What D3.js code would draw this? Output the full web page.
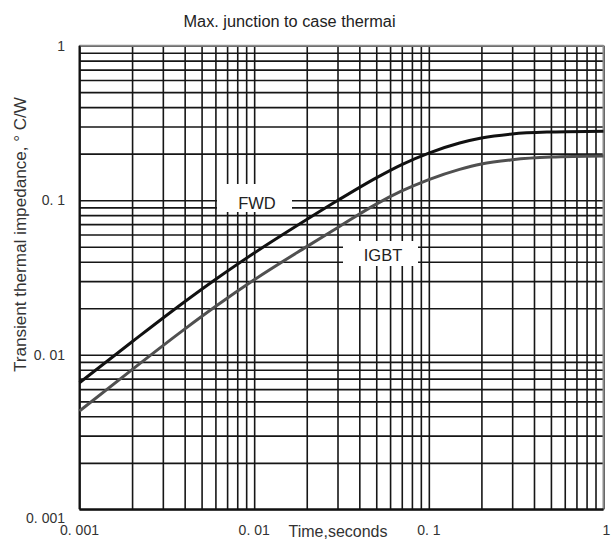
<!DOCTYPE html>
<html>
<head>
<meta charset="utf-8">
<script src="https://cdn.jsdelivr.net/npm/d3@7"></script>
<style>
  html, body { margin: 0; padding: 0; background: #fff; }
  svg { display: block; font-family: "Liberation Sans", Arial, sans-serif; }
</style>
</head>
<body>
<svg id="chart" width="611" height="540"></svg>
<script>
// ---- data ----
const time = [0.001, 0.002, 0.004, 0.006, 0.01, 0.02, 0.03, 0.05, 0.07, 0.1, 0.15, 0.2, 0.3, 0.5, 1];
const fwd  = [0.00659, 0.01213, 0.02203, 0.03069, 0.0455, 0.0750, 0.0995, 0.1396, 0.1702, 0.2018, 0.2344, 0.2526, 0.2685, 0.2765, 0.280];
const igbt = [0.004325, 0.00802, 0.01466, 0.02051, 0.03055, 0.0501, 0.0664, 0.0944, 0.1148, 0.1361, 0.1585, 0.1718, 0.1828, 0.1901, 0.1932];
const xTickValues = [0.001, 0.01, 0.1, 1];
const xTickLabels = ["0. 001", "0. 01", "0. 1", "1"];
const yTickValues = [1, 0.1, 0.01, 0.001];
const yTickLabels = ["1", "0. 1", "0. 01", "0. 001"];
const seriesNames = ["FWD", "IGBT"];

// ---- layout ----
const svg = d3.select("#chart");
const L = 79.5, R = 603.5, T = 45.7, B = 509.3;
const x = d3.scaleLog().domain([0.001, 1]).range([L, R]);
const y = d3.scaleLog().domain([0.001, 1]).range([B, T]);

// grid
const gridColor = "#161616";
svg.append("g")
  .attr("transform", `translate(0,${B})`)
  .call(d3.axisBottom(x).tickValues(x.ticks()).tickSize(-(B - T)).tickFormat(""))
  .call(g => g.select(".domain").remove())
  .call(g => g.selectAll("line").attr("stroke", gridColor).attr("stroke-width", 1.6));
svg.append("g")
  .attr("transform", `translate(${L},0)`)
  .call(d3.axisLeft(y).tickValues(y.ticks()).tickSize(-(R - L)).tickFormat(""))
  .call(g => g.select(".domain").remove())
  .call(g => g.selectAll("line").attr("stroke", gridColor).attr("stroke-width", 1.7));

// frame
svg.append("line").attr("x1", L).attr("x2", R).attr("y1", T).attr("y2", T).attr("stroke", "#8c8c8c").attr("stroke-width", 2);
svg.append("line").attr("x1", R).attr("x2", R).attr("y1", T).attr("y2", B).attr("stroke", "#8c8c8c").attr("stroke-width", 2);
svg.append("line").attr("x1", L).attr("x2", L).attr("y1", T).attr("y2", B).attr("stroke", "#111").attr("stroke-width", 2);
svg.append("line").attr("x1", L).attr("x2", R).attr("y1", B).attr("y2", B).attr("stroke", "#111").attr("stroke-width", 2);

// label boxes (white, hide grid)
const boxes = [
  { name: seriesNames[0], x0: 217, x1: 292, y0: 184, y1: 212, tx: 257, ty: 208.5 },
  { name: seriesNames[1], x0: 343, x1: 418, y0: 241, y1: 266, tx: 383, ty: 260.5 }
];
boxes.forEach(b => {
  svg.append("rect").attr("x", b.x0).attr("y", b.y0).attr("width", b.x1 - b.x0).attr("height", b.y1 - b.y0).attr("fill", "#fff");
  svg.append("text").attr("x", b.tx).attr("y", b.ty).attr("text-anchor", "middle")
    .attr("font-size", 16.5).attr("fill", "#222").text(b.name);
});

// curves
const line = d3.line().x(d => x(d[0])).y(d => y(d[1])).curve(d3.curveMonotoneX);
svg.append("path").datum(time.map((t, i) => [t, igbt[i]]))
  .attr("d", line).attr("fill", "none").attr("stroke", "#505050").attr("stroke-width", 3);
svg.append("path").datum(time.map((t, i) => [t, fwd[i]]))
  .attr("d", line).attr("fill", "none").attr("stroke", "#111").attr("stroke-width", 3);

// tick labels
const txtColor = "#333";
yTickValues.forEach((v, i) => {
  svg.append("text").attr("x", 65).attr("y", y(v) + (v === 0.001 ? 14 : 5))
    .attr("text-anchor", "end").attr("font-size", 14).attr("fill", txtColor).text(yTickLabels[i]);
});
xTickValues.forEach((v, i) => {
  svg.append("text").attr("x", x(v) + (v === 1 ? 3 : 0)).attr("y", 535)
    .attr("text-anchor", "middle").attr("font-size", 14).attr("fill", txtColor).text(xTickLabels[i]);
});

// axis titles
svg.append("text").attr("x", 338).attr("y", 537).attr("text-anchor", "middle")
  .attr("font-size", 16).attr("fill", txtColor).text("Time,seconds");
svg.append("text")
  .attr("transform", "translate(26,234.5) rotate(-90)")
  .attr("text-anchor", "middle").attr("font-size", 16).attr("fill", txtColor)
  .attr("textLength", 275).attr("lengthAdjust", "spacingAndGlyphs")
  .text("Transient thermal impedance, ° C/W");

// title
svg.append("text").attr("x", 289.5).attr("y", 27).attr("text-anchor", "middle")
  .attr("font-size", 16).attr("fill", "#222")
  .attr("textLength", 212).attr("lengthAdjust", "spacingAndGlyphs")
  .text("Max. junction to case thermai");
</script>
</body>
</html>
